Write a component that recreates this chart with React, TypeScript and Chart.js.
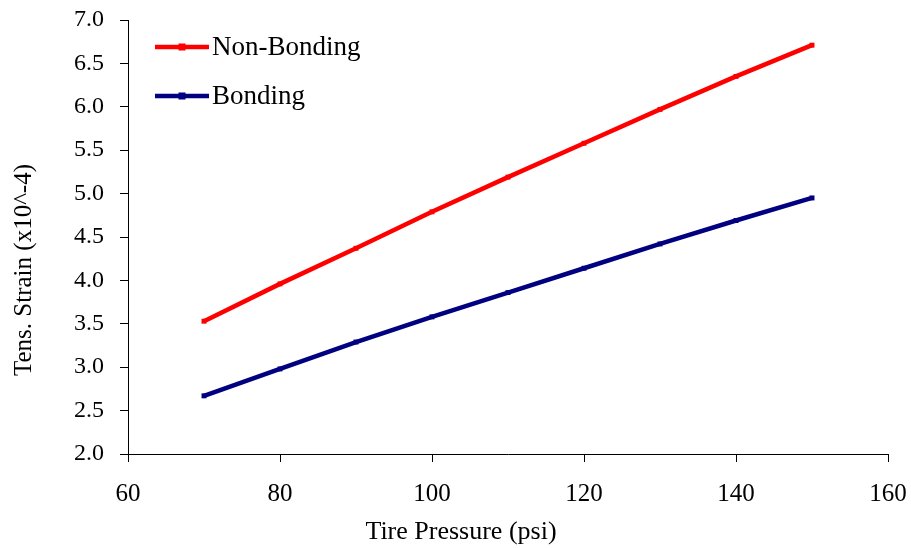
import React, { useEffect, useRef } from "react";
import { Chart, registerables } from "chart.js";

Chart.register(...registerables);

const pressures = [70, 80, 90, 100, 110, 120, 130, 140, 150];
const nonBonding = [3.53, 3.96, 4.37, 4.79, 5.19, 5.58, 5.97, 6.35, 6.71];
const bonding = [2.67, 2.98, 3.29, 3.58, 3.86, 4.14, 4.42, 4.69, 4.95];
const seriesNames = ["Non-Bonding", "Bonding"];
const seriesColors = ["#ff0000", "#000080"];
const xTitle = "Tire Pressure (psi)";
const yTitle = "Tens. Strain (x10^-4)";

const FONT = "'Liberation Serif', 'Times New Roman', serif";

const overlayPlugin = {
  id: "overlay",
  afterDraw(chart: any) {
    const { ctx, chartArea } = chart;
    ctx.save();
    chart.data.datasets.forEach((ds: any, i: number) => {
      const y = chartArea.top + 27 + i * 49;
      const x0 = chartArea.left + 27;
      const x1 = x0 + 54;
      ctx.strokeStyle = ds.borderColor;
      ctx.lineWidth = 4.5;
      ctx.beginPath();
      ctx.moveTo(x0, y);
      ctx.lineTo(x1, y);
      ctx.stroke();
      ctx.fillStyle = ds.borderColor;
      ctx.fillRect((x0 + x1) / 2 - 3.5, y - 3.5, 7, 7);
      ctx.fillStyle = "#000";
      ctx.font = `27px ${FONT}`;
      ctx.textBaseline = "middle";
      ctx.textAlign = "left";
      ctx.fillText(ds.label, x1 + 3, y + 1);
    });
    ctx.fillStyle = "#000";
    ctx.font = `26px ${FONT}`;
    ctx.textAlign = "center";
    ctx.textBaseline = "middle";
    ctx.fillText(xTitle, 461, 532);
    ctx.translate(24, 270);
    ctx.rotate(-Math.PI / 2);
    ctx.font = `25px ${FONT}`;
    ctx.fillText(yTitle, 0, 0);
    ctx.restore();
  },
};

export default function App() {
  const ref = useRef<HTMLCanvasElement>(null);
  useEffect(() => {
    if (!ref.current) return;
    const mk = (vals: number[]) => pressures.map((x, i) => ({ x, y: vals[i] }));
    const ds = (i: number, vals: number[]) => ({
      label: seriesNames[i],
      data: mk(vals),
      borderColor: seriesColors[i],
      backgroundColor: seriesColors[i],
      borderWidth: 4.5,
      pointStyle: "rect",
      pointRadius: 3.5,
      pointBorderWidth: 0,
    });
    const chart = new Chart(ref.current, {
      type: "line",
      data: { datasets: [ds(0, nonBonding), ds(1, bonding)] },
      options: {
        animation: false,
        responsive: true,
        maintainAspectRatio: false,
        layout: { padding: { top: 20, right: 23, left: 0, bottom: 0 } },
        plugins: { legend: { display: false }, tooltip: { enabled: false } },
        scales: {
          x: {
            type: "linear",
            min: 60,
            max: 160,
            afterFit: (s: any) => {
              s.height = 94;
              s.paddingLeft = 0;
              s.paddingRight = 0;
            },
            ticks: {
              stepSize: 20,
              color: "#000",
              padding: 17,
              font: { family: FONT, size: 25 },
            },
            grid: { drawOnChartArea: false, drawTicks: true, tickLength: 8, color: "#000" },
            border: { color: "#000", width: 1 },
          },
          y: {
            type: "linear",
            min: 2,
            max: 7,
            afterFit: (s: any) => {
              s.width = 128;
              s.paddingTop = 0;
              s.paddingBottom = 0;
            },
            ticks: {
              stepSize: 0.5,
              color: "#000",
              padding: 16,
              font: { family: FONT, size: 24 },
              callback: (v: any) => Number(v).toFixed(1),
            },
            grid: { drawOnChartArea: false, drawTicks: true, tickLength: 8, color: "#000" },
            border: { color: "#000", width: 1 },
          },
        },
      },
      plugins: [overlayPlugin],
    });
    return () => chart.destroy();
  }, []);
  return (
    <div style={{ position: "absolute", left: 0, top: 0, width: 911, height: 548, background: "#fff" }}>
      <canvas ref={ref} />
    </div>
  );
}
